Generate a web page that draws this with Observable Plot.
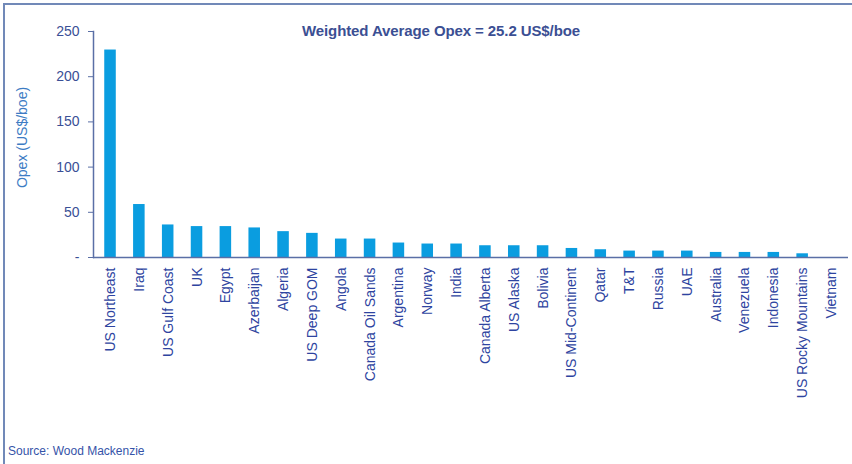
<!DOCTYPE html>
<html>
<head>
<meta charset="utf-8">
<script src="https://cdn.jsdelivr.net/npm/d3@7"></script>
<script src="https://cdn.jsdelivr.net/npm/@observablehq/plot@0.6"></script>
<style>
  html, body { margin: 0; padding: 0; background: #fff; }
  #wrap { position: relative; width: 852px; height: 464px; overflow: hidden; background: #fff; font-family: "Liberation Sans", Arial, sans-serif; }
  #frameTop { position: absolute; left: 3px; top: 3px; width: 849px; height: 2px; background: #7189b8; }
  #frameLeft { position: absolute; left: 3px; top: 3px; width: 2px; height: 461px; background: #7189b8; }
  #title { position: absolute; left: 0; width: 882px; top: 22px; text-align: center; font-weight: bold; font-size: 15px; color: #3b4f93; letter-spacing: -0.1px; }
  #source { position: absolute; left: 8px; top: 444px; font-size: 12px; color: #3553a8; }
  #chart { position: absolute; left: 0; top: 0; }
</style>
</head>
<body>
<div id="wrap">
  <div id="chart"></div>
  <div id="frameTop"></div>
  <div id="frameLeft"></div>
  <div id="title">Weighted Average Opex = 25.2 US$/boe</div>
  <div id="source">Source: Wood Mackenzie</div>
</div>
<script>
const countries = ["US Northeast","Iraq","US Gulf Coast","UK","Egypt","Azerbaijan","Algeria","US Deep GOM","Angola","Canada Oil Sands","Argentina","Norway","India","Canada Alberta","US Alaska","Bolivia","US Mid-Continent","Qatar","T&T","Russia","UAE","Australia","Venezuela","Indonesia","US Rocky Mountains","Vietnam"];
const opex = [229.5,58.6,36,34.2,34.2,32.7,28.6,26.7,20.4,20.4,16,14.9,14.9,13,13,13,10,8.6,7.1,7.1,7.1,5.6,5.6,5.6,4.1,0];
const yTicks = [0,50,100,150,200,250];
const yLabel = ["Opex (US$/boe)"];

const data = countries.map((c, i) => ({country: c, opex: opex[i]}));

const chart = Plot.plot({
  width: 852,
  height: 440,
  marginTop: 31,
  marginBottom: 183,
  marginLeft: 93,
  marginRight: 4,
  style: {fontFamily: "Liberation Sans, Arial, sans-serif", background: "transparent"},
  x: {domain: countries, paddingInner: 0.6, paddingOuter: 0.39, round: false},
  y: {domain: [0, 250]},
  marks: [
    Plot.barY(data, {x: "country", y: "opex", fill: "#0a9de0"}),
    Plot.ruleY([0], {stroke: "#5a6fa6", strokeWidth: 1.5}),
    Plot.frame({anchor: "left", stroke: "#5a6fa6", strokeWidth: 1.5}),
    Plot.axisY({
      ticks: yTicks,
      tickFormat: d => d === 0 ? "-" : d,
      tickSize: 5,
      tickPadding: 9,
      stroke: "#5a6fa6",
      fill: "#3a4f96",
      fontSize: 14,
      label: null
    }),
    Plot.text(yLabel, {
      text: d => d,
      frameAnchor: "left",
      textAnchor: "middle",
      rotate: -90,
      dx: -71,
      dy: -7,
      fill: "#3d7cc4",
      fontSize: 14
    }),
    Plot.axisX({
      tickSize: 0,
      tickPadding: 10,
      tickRotate: -90,
      fill: "#2e44a0",
      fontSize: 14,
      label: null
    })
  ]
});
document.getElementById("chart").appendChild(chart);
</script>
</body>
</html>
